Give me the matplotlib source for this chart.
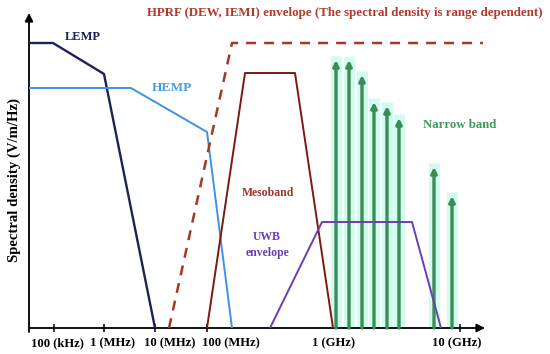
import matplotlib
matplotlib.use('Agg')
import matplotlib.pyplot as plt

plt.rcParams['font.family'] = ['Liberation Serif', 'DejaVu Serif']
plt.rcParams['font.weight'] = 'bold'

# x is the position along the (non-uniform) frequency axis, y is relative spectral density
tick_pos = [25, 75, 126, 178, 304, 431]
label_pos = [28, 84, 141, 202, 304, 428]
tick_labels = ['100 (kHz)', '1 (MHz)', '10 (MHz)', '100 (MHz)', '1 (GHz)', '10 (GHz)']

lemp_x = [0, 24, 75, 126]
lemp_y = [285, 285, 254, 0]

hemp_x = [0, 102, 178, 203]
hemp_y = [240, 240, 196, 0]

hprf_x = [140, 203, 454]
hprf_y = [0, 285, 285]

meso_x = [178, 216, 266, 304]
meso_y = [0, 255, 255, 0]

uwb_x = [241, 293, 383, 412]
uwb_y = [0, 106, 106, 0]

nb_x = [307, 320, 333, 345, 358, 370, 405, 423]
nb_y = [268, 268, 253, 226, 222, 210, 161, 132]

fig = plt.figure(figsize=(5.5, 3.54), dpi=100)
ax = fig.add_axes([29/550, 26/354, 456/550, 315/354])
ax.set_xlim(0, 456)
ax.set_ylim(0, 315)
for s in ax.spines.values():
    s.set_visible(False)

# axes with arrow heads
ax.annotate('', xy=(456, 0), xytext=(0, 0),
            arrowprops=dict(arrowstyle='-|>', color='black', lw=1.3,
                            mutation_scale=12, shrinkA=0, shrinkB=0))
ax.annotate('', xy=(0, 315), xytext=(0, -4),
            arrowprops=dict(arrowstyle='-|>', color='black', lw=1.3,
                            mutation_scale=12, shrinkA=0, shrinkB=0),
            annotation_clip=False)

# tick marks sit on the decades, labels are shifted a bit like the original
ax.set_xticks(tick_pos, minor=True)
ax.tick_params(axis='x', which='minor', direction='inout', length=6, width=1.1)
ax.set_xticks(label_pos)
ax.set_xticklabels(tick_labels, fontsize=9.1, fontweight='bold')
ax.tick_params(axis='x', which='major', length=0, pad=6.5)
ax.set_yticks([])
fig.text(14/550, 1 - 180/354, 'Spectral density (V/m/Hz)', rotation=90,
         fontsize=10.6, fontweight='bold', ha='center', va='center')

# narrow band arrows with light glow
for x, y in zip(nb_x, nb_y):
    ax.plot([x, x], [0, y + 4], color='#d2fcf0', lw=8, solid_capstyle='butt', zorder=1)
for x, y in zip(nb_x, nb_y):
    ax.annotate('', xy=(x, y), xytext=(x, 0),
                arrowprops=dict(arrowstyle='-|>', color='#3b8c55', lw=2.4,
                                mutation_scale=8, shrinkA=0, shrinkB=0), zorder=3)

ax.plot(lemp_x, lemp_y, color='#1c2157', lw=1.7, zorder=4)
ax.plot(hemp_x, hemp_y, color='#3f93e4', lw=1.4, zorder=4)
ax.plot(hprf_x, hprf_y, color='#a23a22', lw=1.8, ls=(0, (4, 3.2)), zorder=4)
ax.plot(meso_x, meso_y, color='#7a1a10', lw=1.4, zorder=4)
ax.plot(uwb_x, uwb_y, color='#6a3db5', lw=1.4, zorder=4)

ax.text(36, 291, 'LEMP', color='#1c2157', fontsize=9, fontweight='bold', va='center')
ax.text(123, 240, 'HEMP', color='#4a9ce6', fontsize=9.6, fontweight='bold', va='center')
ax.text(239, 135, 'Mesoband', color='#a0342a', fontsize=8.5, fontweight='bold', ha='center', va='center')
ax.text(238, 83, 'UWB\nenvelope', color='#6a3db5', fontsize=8.5, fontweight='bold',
        ha='center', va='center', linespacing=1.45)
ax.text(431, 203, 'Narrow band', color='#3c9a5c', fontsize=9.2, fontweight='bold',
        ha='center', va='center')
ax.text(316, 315, 'HPRF (DEW, IEMI) envelope (The spectral density is range dependent)',
        color='#b23a2c', fontsize=9.3, fontweight='bold', ha='center', va='center', clip_on=False)

fig.savefig('out.png', dpi=100)
